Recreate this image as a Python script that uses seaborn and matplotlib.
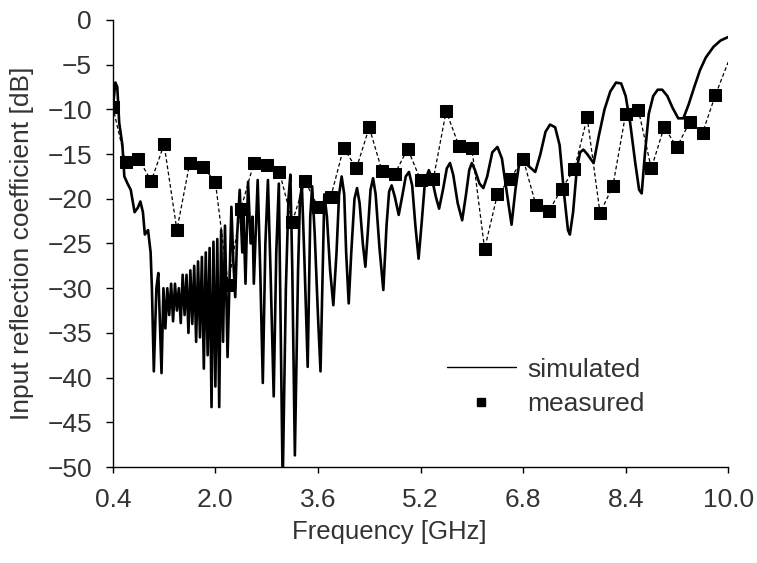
import pandas as pd
import matplotlib
matplotlib.use("Agg")
import matplotlib.pyplot as plt
from matplotlib.lines import Line2D
import seaborn as sns

# simulated S11 (peaks, troughs and shoulders)
sim_freq = [0.40, 0.44, 0.47, 0.50, 0.55, 0.58, 0.63, 0.68, 0.74, 0.79, 0.83, 0.87,
            0.90, 0.95, 0.99, 1.01, 1.04, 1.08, 1.11, 1.16,
            1.19, 1.22, 1.25, 1.28, 1.31, 1.34, 1.37, 1.40, 1.43, 1.46, 1.49, 1.52,
            1.55, 1.58, 1.61, 1.64, 1.67, 1.70, 1.73, 1.76, 1.79, 1.82, 1.85, 1.88,
            1.91, 1.94, 1.97, 2.00, 2.03, 2.06, 2.09, 2.12, 2.15, 2.19,
            2.25, 2.28, 2.31, 2.34, 2.38, 2.42, 2.44, 2.47, 2.51, 2.55, 2.58, 2.60,
            2.66, 2.70, 2.74, 2.78, 2.82, 2.86, 2.91, 2.95, 2.99, 3.02, 3.05, 3.10,
            3.14, 3.17, 3.20, 3.24, 3.29, 3.32, 3.35, 3.39, 3.44, 3.48, 3.51, 3.55,
            3.60, 3.64, 3.70, 3.74, 3.79, 3.84, 3.89, 3.93, 3.97, 4.01, 4.04, 4.08,
            4.12, 4.17, 4.21, 4.25, 4.30, 4.34, 4.38, 4.42, 4.46, 4.50, 4.56, 4.62,
            4.67, 4.71, 4.75, 4.80, 4.86, 4.92, 4.97, 5.02, 5.07, 5.12, 5.17, 5.22,
            5.27, 5.33, 5.38, 5.44, 5.49, 5.55, 5.61, 5.66, 5.71, 5.78, 5.85, 5.91,
            5.96, 6.00, 6.05, 6.12, 6.18, 6.24, 6.32, 6.40, 6.47, 6.54, 6.62, 6.68,
            6.74, 6.81, 6.88, 6.99, 7.07, 7.15, 7.22, 7.30, 7.37, 7.44, 7.50, 7.53,
            7.58, 7.64, 7.69, 7.74, 7.80, 7.90, 7.98, 8.07, 8.16, 8.25, 8.33, 8.40,
            8.47, 8.55, 8.61, 8.65, 8.70, 8.76, 8.83, 8.90, 8.97, 9.05, 9.13, 9.22,
            9.30, 9.38, 9.47, 9.56, 9.65, 9.77, 9.88, 10.0]
sim_db = [-10.0, -7.0, -7.5, -11.5, -14.0, -17.5, -18.3, -19.0, -21.5, -21.0, -20.3, -21.5,
          -24.0, -23.5, -26.0, -30.0, -39.3, -30.0, -28.3, -39.5,
          -30.0, -34.5, -30.0, -33.0, -29.5, -33.7, -29.5, -32.5, -30.0, -33.9, -28.5, -33.0,
          -28.5, -35.0, -28.0, -34.0, -27.5, -36.0, -27.0, -35.5, -26.5, -39.0, -26.0, -37.5,
          -25.5, -43.3, -24.8, -41.0, -24.5, -43.3, -23.5, -36.0, -23.0, -37.7,
          -20.9, -27.0, -31.0, -24.0, -19.0, -26.0, -22.0, -29.5, -18.1, -25.0, -22.0, -29.5,
          -17.9, -28.0, -40.6, -25.0, -17.9, -28.0, -42.1, -26.0, -18.3, -35.0, -52.0, -30.0,
          -20.0, -17.3, -28.0, -48.7, -28.0, -20.0, -18.6, -27.0, -38.8, -22.0, -18.6, -24.0,
          -33.0, -39.3, -19.5, -22.0, -28.0, -31.9, -26.0, -19.5, -17.5, -19.5, -26.0, -31.7,
          -26.0, -20.0, -18.8, -20.5, -25.0, -27.6, -23.5, -19.0, -17.7, -19.5, -25.5, -30.2,
          -23.0, -19.2, -18.5, -19.8, -21.8, -19.5, -17.5, -17.0, -18.5, -23.0, -26.7, -22.5,
          -18.0, -16.8, -17.8, -19.8, -21.1, -19.0, -16.6, -16.0, -17.3, -20.5, -22.4, -19.5,
          -16.8, -16.0, -16.8, -18.3, -18.8, -17.5, -14.8, -14.2, -15.5, -19.0, -22.9, -19.0,
          -16.0, -15.5, -16.3, -17.0, -15.0, -12.5, -11.7, -12.0, -14.0, -19.5, -23.5, -24.0,
          -21.5, -16.5, -14.8, -14.5, -15.0, -16.0, -13.0, -10.0, -8.0, -7.0, -7.1, -8.5,
          -11.5, -16.0, -19.0, -19.4, -15.0, -10.5, -8.5, -7.8, -7.8, -8.5, -9.8, -11.0,
          -11.0, -9.5, -7.5, -5.6, -4.2, -3.0, -2.3, -1.9]

# measured S11
meas_freq = [0.4, 0.6, 0.8, 1.0, 1.2, 1.4, 1.6, 1.8, 2.0, 2.2, 2.4, 2.6, 2.8, 3.0, 3.2,
             3.4, 3.6, 3.8, 4.0, 4.2, 4.4, 4.6, 4.8, 5.0, 5.2, 5.4, 5.6, 5.8, 6.0, 6.2,
             6.4, 6.6, 6.8, 7.0, 7.2, 7.4, 7.6, 7.8, 8.0, 8.2, 8.4, 8.6, 8.8, 9.0, 9.2,
             9.4, 9.6, 9.8, 10.0]
meas_db = [-9.7, -15.9, -15.5, -18.0, -13.9, -23.5, -16.0, -16.4, -18.1, -29.6, -21.1,
           -16.0, -16.2, -17.0, -22.6, -18.0, -20.9, -19.8, -14.3, -16.6, -12.0, -16.9,
           -17.2, -14.4, -17.9, -17.8, -10.2, -14.1, -14.3, -25.6, -19.5, -17.8, -15.5,
           -20.7, -21.4, -18.9, -16.7, -10.9, -21.6, -18.6, -10.5, -10.1, -16.6, -12.0,
           -14.2, -11.4, -12.6, -8.4, -4.7]

xticks = [0.4, 2.0, 3.6, 5.2, 6.8, 8.4, 10.0]
xticklabels = ["0.4", "2.0", "3.6", "5.2", "6.8", "8.4", "10.0"]
yticks = list(range(-50, 1, 5))

sim = pd.DataFrame({"freq": sim_freq, "db": sim_db})
meas = pd.DataFrame({"freq": meas_freq, "db": meas_db})

sns.set_style("ticks")
plt.rcParams["font.family"] = ["Liberation Sans", "DejaVu Sans"]
txt = "#333333"

fig = plt.figure(figsize=(7.57, 5.63), dpi=100)
ax = fig.add_axes([0.149, 0.1705, 0.813, 0.794])

sns.lineplot(data=meas, x="freq", y="db", ax=ax, sort=False, estimator=None,
             color="black", lw=0.9, linestyle=(0, (3, 2)), marker="s", markersize=8,
             markeredgecolor="black", markevery=list(range(len(meas_freq) - 1)))
sns.lineplot(data=sim, x="freq", y="db", ax=ax, sort=False, estimator=None,
             color="black", lw=1.9)

ax.set_xlim(0.4, 10.0)
ax.set_ylim(-50, 0)
ax.set_xticks(xticks)
ax.set_xticklabels(xticklabels)
ax.set_yticks(yticks)
ax.tick_params(labelsize=19, length=4, width=1, color="black", labelcolor=txt)
ax.tick_params(axis="x", pad=11)
ax.tick_params(axis="y", pad=10, length=5)
ax.set_xlabel("Frequency [GHz]", fontsize=18.5, color=txt, va="center")
ax.xaxis.set_label_coords(0.449, -0.145)
ax.set_ylabel("Input reflection coefficient [dB]", fontsize=19, color=txt, va="center")
ax.yaxis.set_label_coords(-0.148, 0.50)
sns.despine(ax=ax)
for s in ["left", "bottom"]:
    ax.spines[s].set_linewidth(1)
    ax.spines[s].set_color("black")

handles = [Line2D([], [], color="black", lw=1),
           Line2D([], [], color="black", lw=0, marker="s", markersize=6)]
leg = ax.legend(handles, ["simulated", "measured"], loc="center left",
                bbox_to_anchor=(0.543, 0.179), frameon=False, fontsize=19,
                handlelength=2.6, handletextpad=0.45, labelspacing=0.4,
                borderpad=0, borderaxespad=0)
for t in leg.get_texts():
    t.set_color(txt)

fig.savefig("out.png", dpi=100)
